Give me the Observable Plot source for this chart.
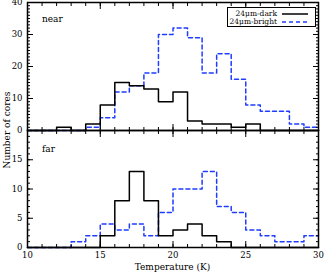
<!DOCTYPE html>
<html><head><meta charset="utf-8">
<script src="https://cdn.jsdelivr.net/npm/d3@7"></script>
<script src="https://cdn.jsdelivr.net/npm/@observablehq/plot@0.6"></script>
<style>
body{margin:0;background:#fff;}
#fig{position:relative;width:325px;height:274px;overflow:hidden;font-family:"DejaVu Serif",serif;color:#000;}
#fig > svg{position:absolute;left:0;overflow:visible;background:transparent;}
.lbl{position:absolute;font-size:9px;white-space:nowrap;}
#legend{position:absolute;left:227px;top:7px;width:87px;height:18px;border:1px solid #000;background:#fff;font-size:7.5px;}
#legend .row{position:absolute;left:0;width:87px;height:8px;}
#legend .row span{position:absolute;right:38px;top:-1px;line-height:9px;}
#legend .row svg{position:absolute;left:53px;top:0;}
</style></head><body><div id="fig"></div>
<script>
// bin lower edges (K), bin width 1 K
const binStart = [10,11,12,13,14,15,16,17,18,19,20,21,22,23,24,25,26,27,28,29];
const binEnd = 30;
const nearDark   = [0,0,1,0,2,8,15,14,13,9,12,3,2,2,1,2,0,0,0,0];
const nearBright = [0,0,0,0,1,4,12,14,18,30,32,29,18,24,16,8,6,6,2,1];
const farDark    = [0,0,0,0,0,2,8,13,8,2,3,4,2,1,0,0,0,0,0,0];
const farBright  = [0,0,0,1,2,4,3,4,2,6,10,10,13,7,6,3,2,1,1,2];
const seriesNames = ["24\u03bcm-dark", "24\u03bcm-bright"];
const panelNames = ["near", "far"];
const xDomain = [10, 30];
const xMajorTicks = [10,15,20,25,30];
const xMinorTicks = [10,11,12,13,14,15,16,17,18,19,20,21,22,23,24,25,26,27,28,29,30];
const nearYDomain = [0, 40];
const nearYMajor = [0,10,20,30,40];
const nearYMinor = [0,1,2,3,4,5,6,7,8,9,10,11,12,13,14,15,16,17,18,19,20,21,22,23,24,25,26,27,28,29,30,31,32,33,34,35,36,37,38,39,40];
const nearYLabels = [0,10,20,30,40];
const farYDomain = [0, 20];
const farYMajor = [0,5,10,15,20];
const farYMinor = [0,1,2,3,4,5,6,7,8,9,10,11,12,13,14,15,16,17,18,19,20];
const farYLabels = [0,5,10,15];
const xTitle = "Temperature (K)";
const yTitle = "Number of cores";

const darkStyle = {stroke: "#000", strokeWidth: 1.5};
const brightStyle = {stroke: "#1f3cff", strokeWidth: 1.5, strokeDasharray: "4,3"};

function steps(counts) {
  const pts = binStart.map((x, i) => ({x, y: counts[i]}));
  pts.push({x: binEnd, y: counts[counts.length - 1]});
  return pts;
}

function panel({dark, bright, yDomain, yMajor, yMinor, yLabels, showX, name, nameDy, innerH, mTop, mBottom}) {
  const blank = () => "";
  return Plot.plot({
    width: 325,
    height: mTop + innerH + mBottom,
    marginLeft: 27, marginRight: 7, marginTop: mTop, marginBottom: mBottom,
    style: {fontFamily: "DejaVu Serif", fontSize: "8.5px", background: "transparent", overflow: "visible"},
    x: {domain: xDomain},
    y: {domain: yDomain},
    marks: [
      Plot.line(steps(bright), {x: "x", y: "y", curve: "step-after", ...brightStyle}),
      Plot.line(steps(dark), {x: "x", y: "y", curve: "step-after", ...darkStyle}),
      Plot.axisX({anchor: "bottom", ticks: xMajorTicks, tickSize: -6, tickPadding: 10.5, label: null, tickFormat: showX ? (d => d) : blank}),
      Plot.axisX({anchor: "bottom", ticks: xMinorTicks, tickSize: -3, label: null, tickFormat: blank}),
      Plot.axisX({anchor: "top", ticks: xMajorTicks, tickSize: -6, label: null, tickFormat: blank}),
      Plot.axisX({anchor: "top", ticks: xMinorTicks, tickSize: -3, label: null, tickFormat: blank}),
      Plot.axisY({anchor: "left", ticks: yMajor, tickSize: -6, tickPadding: 11, label: null, tickFormat: d => yLabels.includes(d) ? d : ""}),
      Plot.axisY({anchor: "left", ticks: yMinor, tickSize: -3, label: null, tickFormat: blank}),
      Plot.axisY({anchor: "right", ticks: yMajor, tickSize: -6, label: null, tickFormat: blank}),
      Plot.axisY({anchor: "right", ticks: yMinor, tickSize: -3, label: null, tickFormat: blank}),
      Plot.frame({stroke: "#000", strokeWidth: 1.5}),
      Plot.text([name], {text: d => d, frameAnchor: "top-left", dx: 14.5, dy: nameDy, textAnchor: "start", fontSize: 9})
    ]
  });
}

const fig = document.getElementById("fig");

const topPanel = panel({dark: nearDark, bright: nearBright, yDomain: nearYDomain, yMajor: nearYMajor, yMinor: nearYMinor,
  yLabels: nearYLabels, showX: false, name: panelNames[0], nameDy: 13.5, innerH: 128, mTop: 10, mBottom: 10});
topPanel.style.top = "-8px";
fig.appendChild(topPanel);

const bottomPanel = panel({dark: farDark, bright: farBright, yDomain: farYDomain, yMajor: farYMajor, yMinor: farYMinor,
  yLabels: farYLabels, showX: true, name: panelNames[1], nameDy: 15, innerH: 117, mTop: 10, mBottom: 27});
bottomPanel.style.top = "120px";
fig.appendChild(bottomPanel);

// axis titles
const xt = document.createElement("div");
xt.className = "lbl";
xt.textContent = xTitle;
xt.style.left = "172.5px"; xt.style.top = "262px"; xt.style.transform = "translateX(-50%)";
fig.appendChild(xt);

const yt = document.createElement("div");
yt.className = "lbl";
yt.textContent = yTitle;
yt.style.left = "7px"; yt.style.top = "130px";
yt.style.transform = "translate(-50%,-50%) rotate(-90deg)";
fig.appendChild(yt);

// legend
const legend = document.createElement("div");
legend.id = "legend";
const styles = [darkStyle, brightStyle];
seriesNames.forEach((s, i) => {
  const row = document.createElement("div");
  row.className = "row";
  row.style.top = (2 + i * 7.5) + "px";
  const sp = document.createElement("span");
  sp.textContent = s;
  row.appendChild(sp);
  const st = styles[i];
  row.insertAdjacentHTML("beforeend",
    `<svg width="28" height="8"><line x1="1" x2="27" y1="4" y2="4" stroke="${st.stroke}" stroke-width="${st.strokeWidth}" ${st.strokeDasharray ? `stroke-dasharray="${st.strokeDasharray}"` : ""}/></svg>`);
  legend.appendChild(row);
});
fig.appendChild(legend);
</script>
</body></html>
